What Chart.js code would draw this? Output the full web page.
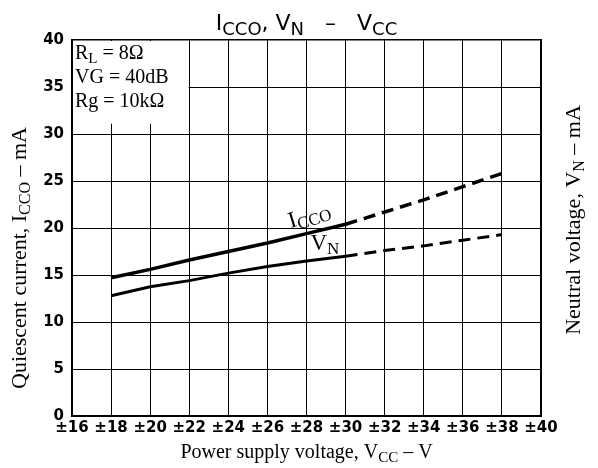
<!DOCTYPE html>
<html>
<head>
<meta charset="utf-8">
<script src="https://cdn.jsdelivr.net/npm/chart.js@4.4.1/dist/chart.umd.min.js"></script>
<style>
  html, body { margin: 0; padding: 0; background: #fff; }
  #wrap { width: 598px; height: 468px; }
</style>
</head>
<body>
<div id="wrap"><canvas id="chart" width="598" height="468"></canvas></div>
<script>
// power supply voltage (±V)
const vcc = [18, 20, 22, 24, 26, 28, 30, 32, 34, 36, 38];
const icco = [14.7, 15.6, 16.6, 17.5, 18.4, 19.4, 20.4, 21.7, 23.0, 24.4, 25.8];
const vn = [12.8, 13.75, 14.4, 15.2, 15.9, 16.5, 17.0, 17.6, 18.1, 18.7, 19.3];
const solidUpTo = 30; // curves are dashed beyond this

const xTicks = [16, 18, 20, 22, 24, 26, 28, 30, 32, 34, 36, 38, 40];
const yTicks = [0, 5, 10, 15, 20, 25, 30, 35, 40];

const SERIF = '"Liberation Serif", "DejaVu Serif", serif';
const SANS = '"DejaVu Sans", sans-serif';

// draw text made of pieces, some of them subscripts
function drawRich(ctx, parts, x, y, o) {
  const mainFont = o.size + 'px ' + o.family;
  const subFont = o.subSize + 'px ' + o.family;
  let w = 0;
  parts.forEach(p => {
    ctx.font = p[1] ? subFont : mainFont;
    w += ctx.measureText(p[0]).width;
  });
  ctx.save();
  ctx.translate(x, y);
  if (o.rotate) ctx.rotate(o.rotate);
  ctx.fillStyle = '#000';
  ctx.textBaseline = 'alphabetic';
  ctx.textAlign = 'left';
  let cx = o.align === 'center' ? -w / 2 : 0;
  parts.forEach(p => {
    ctx.font = p[1] ? subFont : mainFont;
    ctx.fillText(p[0], cx, p[1] ? o.subDy : 0);
    cx += ctx.measureText(p[0]).width;
  });
  ctx.restore();
}

const dashedAfter = ctx => ctx.p0.parsed.x >= solidUpTo ? [12, 7] : undefined;

const decorations = {
  id: 'decorations',
  beforeDatasetsDraw(chart) {
    const { ctx, scales: { x, y } } = chart;
    // white parameter box in the upper left corner
    const left = x.getPixelForValue(16);
    const right = x.getPixelForValue(22);
    const top = y.getPixelForValue(40);
    const bottom = y.getPixelForValue(31.2);
    ctx.save();
    ctx.fillStyle = '#fff';
    ctx.fillRect(left + 1, top + 1, right - left - 1.5, bottom - top);
    ctx.restore();
    const o = { family: SERIF, size: 20, subSize: 15, subDy: 4 };
    drawRich(ctx, [['R', 0], ['L', 1], [' = 8\u03A9', 0]], left + 3, top + 19, o);
    drawRich(ctx, [['VG = 40dB', 0]], left + 3, top + 43, o);
    drawRich(ctx, [['Rg = 10k\u03A9', 0]], left + 3, top + 67, o);
  },
  afterDraw(chart) {
    const { ctx, scales: { x, y } } = chart;
    const area = chart.chartArea;
    const mid = (area.left + area.right) / 2;

    // title
    drawRich(ctx, [['I', 0], ['CCO', 1], [', V', 0], ['N', 1], ['   \u2013   V', 0], ['CC', 1]],
      mid, 30, { family: SANS, size: 22, subSize: 18, subDy: 5, align: 'center' });

    // axis titles
    const axisFont = { family: SERIF, size: 20, subSize: 15, subDy: 4, align: 'center' };
    drawRich(ctx, [['Power supply voltage, V', 0], ['CC', 1], [' \u2013 V', 0]],
      mid, 458, axisFont);
    const sideFont = { family: SERIF, size: 22, subSize: 16, subDy: 4, align: 'center', rotate: -Math.PI / 2 };
    drawRich(ctx, [['Quiescent current, I', 0], ['CCO', 1], [' \u2013 mA', 0]],
      26, 258, sideFont);
    drawRich(ctx, [['Neutral voltage, V', 0], ['N', 1], [' \u2013 mA', 0]],
      580, 220, sideFont);

    // curve labels
    const curveFont = { family: SERIF, size: 23, subSize: 17, subDy: 4 };
    drawRich(ctx, [['I', 0], ['CCO', 1]], x.getPixelForValue(27.2), y.getPixelForValue(20.0),
      Object.assign({ rotate: -0.3 }, curveFont));
    drawRich(ctx, [['V', 0], ['N', 1]], x.getPixelForValue(28.2), y.getPixelForValue(17.7), curveFont);
  }
};

const gridStyle = {
  color: '#000',
  lineWidth: c => (c.tick && (c.tick.value === 40)) ? 1.6 : 1,
  drawTicks: false
};

const tickFont = { family: SANS, size: 15, weight: 'bold' };

new Chart(document.getElementById('chart'), {
  type: 'line',
  data: {
    datasets: [
      {
        label: 'ICCO',
        data: vcc.map((v, i) => ({ x: v, y: icco[i] })),
        borderColor: '#000',
        borderWidth: 3.5,
        pointRadius: 0,
        tension: 0,
        segment: { borderDash: dashedAfter }
      },
      {
        label: 'VN',
        data: vcc.map((v, i) => ({ x: v, y: vn[i] })),
        borderColor: '#000',
        borderWidth: 3,
        pointRadius: 0,
        tension: 0,
        segment: { borderDash: dashedAfter }
      }
    ]
  },
  options: {
    responsive: false,
    animation: false,
    devicePixelRatio: 1,
    layout: { padding: { top: 40, left: 0, right: 0, bottom: 0 } },
    plugins: { legend: { display: false }, tooltip: { enabled: false } },
    scales: {
      x: {
        type: 'linear',
        min: 16,
        max: 40,
        afterBuildTicks: s => { s.ticks = xTicks.map(v => ({ value: v })); },
        afterFit: s => { s.height = 52; },
        ticks: {
          callback: v => '\u00B1' + v,
          font: tickFont,
          color: '#000',
          padding: 3,
          maxRotation: 0,
          autoSkip: false
        },
        grid: gridStyle,
        border: { color: '#000', width: 2 }
      },
      y: {
        position: 'left',
        min: 0,
        max: 40,
        afterBuildTicks: s => { s.ticks = yTicks.map(v => ({ value: v })); },
        afterFit: s => { s.width = 72; },
        ticks: {
          font: tickFont,
          color: '#000',
          padding: 8
        },
        grid: gridStyle,
        border: { color: '#000', width: 2 }
      },
      y2: {
        position: 'right',
        min: 0,
        max: 40,
        afterFit: s => { s.width = 57; },
        ticks: { display: false },
        grid: { drawOnChartArea: false, drawTicks: false },
        border: { color: '#000', width: 2 }
      }
    }
  },
  plugins: [decorations]
});
</script>
</body>
</html>
